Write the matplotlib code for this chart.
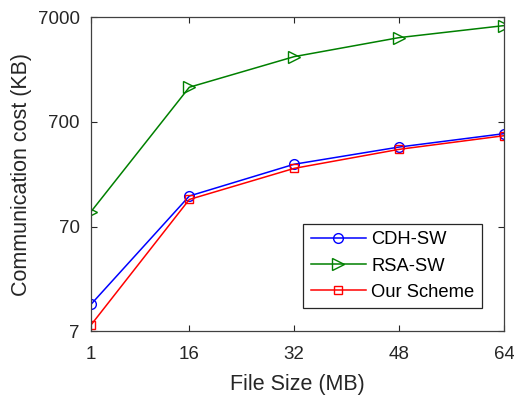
import matplotlib
matplotlib.use('Agg')
import matplotlib.pyplot as plt
import numpy as np

plt.rcParams['font.family'] = ['Liberation Sans', 'DejaVu Sans']

file_size = [1, 16, 32, 48, 64]
cdh_sw = [12.6, 137, 276, 403, 541]
rsa_sw = [97, 1504, 2952, 4487, 5845]
our_scheme = [8.0, 127, 252, 383, 517]

x_ticks = [1, 16, 32, 48, 64]
y_ticks = [7, 70, 700, 7000]

fig = plt.figure(figsize=(5.14, 3.96), dpi=100)
ax = fig.add_axes([0.177, 0.164, 0.8035, 0.792])

ax.semilogy(file_size, cdh_sw, color='blue', marker='o', mfc='none', ms=7, lw=1.1, label='CDH-SW')
ax.semilogy(file_size, rsa_sw, color=(0, 0.5, 0), marker='>', mfc='none', ms=8, lw=1.1, label='RSA-SW')
ax.semilogy(file_size, our_scheme, color='red', marker='s', mfc='none', ms=6, lw=1.1, label='Our Scheme')

ax.set_xlim(1, 64)
ax.set_ylim(7, 7000)
ax.set_xticks(x_ticks)
ax.set_xticklabels([str(v) for v in x_ticks])
ax.set_yticks(y_ticks)
ax.set_yticklabels([str(v) for v in y_ticks])
ax.minorticks_off()
ax.tick_params(direction='in', top=True, right=True, labelsize=13.5, colors='#262626',
               length=4)
ax.tick_params(axis='x', pad=11)
ax.tick_params(axis='y', pad=8)
for s in ax.spines.values():
    s.set_color('#404040')
    s.set_linewidth(0.9)

ax.set_xlabel('File Size (MB)', fontsize=15.5, color='#262626', labelpad=8)
ax.set_ylabel('Communication cost (KB)', fontsize=15.5, color='#262626', labelpad=4)

leg = ax.legend(loc='lower right', bbox_to_anchor=(0.946, 0.073), fancybox=False,
                edgecolor='#262626', framealpha=1, borderaxespad=0, fontsize=13.2,
                handlelength=3.0, handletextpad=0.3, labelspacing=0.5, borderpad=0.4)
leg.get_frame().set_linewidth(0.9)

fig.savefig('out.png', dpi=100)
